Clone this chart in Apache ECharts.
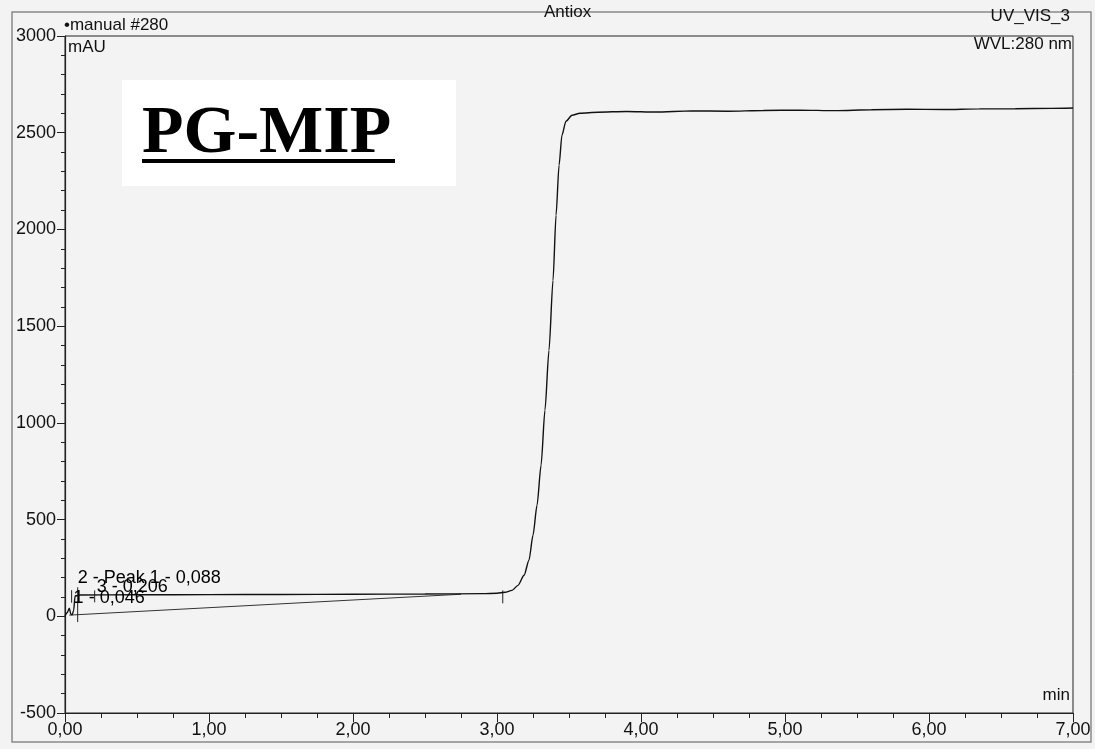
<!DOCTYPE html>
<html>
<head>
<meta charset="utf-8">
<title>Antiox – PG-MIP</title>
<script src="https://cdn.jsdelivr.net/npm/echarts@6/dist/echarts.min.js"></script>
<style>
  html, body { margin: 0; padding: 0; background: #f3f3f3; }
  #chart { width: 1095px; height: 749px; }
</style>
</head>
<body>
<div id="chart"></div>
<script>
// Retention time (min) and absorbance (mAU) of the UV_VIS_3 trace
const traceTime = [0.00, 0.015, 0.03, 0.04, 0.05, 0.06, 0.07, 0.10, 0.50, 1.00, 1.50, 2.00, 2.50, 2.90,
  3.00, 3.056, 3.104, 3.146, 3.188, 3.222, 3.25, 3.278, 3.306, 3.333, 3.361, 3.389, 3.41, 3.431,
  3.451, 3.479, 3.521, 3.576, 3.70, 3.90, 4.10, 4.35, 4.60, 4.85, 5.10, 5.35, 5.60, 5.85, 6.10,
  6.35, 6.60, 6.85, 7.00];
const traceValue = [2, 18, 42, 12, 8, 30, 105, 110, 111, 112, 113, 114, 115, 117,
  119, 124, 134, 160, 212, 290, 419, 574, 781, 1065, 1375, 1737, 2073, 2332,
  2487, 2560, 2590, 2601, 2606, 2610, 2607, 2613, 2611, 2615, 2617, 2614, 2619, 2621, 2620,
  2623, 2624, 2626, 2628];

// Integration baseline (min, mAU)
const baselineTime = [0.03, 2.75];
const baselineValue = [6, 114];

// Detected peaks
const peakNo = [1, 2, 3];
const peakName = ['', 'Peak 1', ''];
const peakRT = [0.046, 0.088, 0.206];
const peakEndRT = 3.04;

// Axis ticks
const xTicks = [0, 1, 2, 3, 4, 5, 6, 7];
const yTicks = [-500, 0, 500, 1000, 1500, 2000, 2500, 3000];

const fmtComma = (v, d) => v.toFixed(d).replace('.', ',');

// Delimiter marks (mAU range of each vertical stroke) and label offsets in px
const tickSpan = [[70, 135], [-30, 150], [72, 134]];
const endTickSpan = [67, 134];
const labelOffset = [[2, -18], [0, -38], [2, -29]];

const FONT = '"Liberation Sans", Arial, sans-serif';

const chart = echarts.init(document.getElementById('chart'), null, { renderer: 'canvas' });

const tickSeries = peakRT.map((rt, i) => ({
  type: 'line', silent: true, symbol: 'none', z: 3,
  lineStyle: { color: '#222', width: 1 },
  data: [[rt, tickSpan[i][0]], [rt, tickSpan[i][1]]]
}));
tickSeries.push({
  type: 'line', silent: true, symbol: 'none', z: 3,
  lineStyle: { color: '#222', width: 1 },
  data: [[peakEndRT, endTickSpan[0]], [peakEndRT, endTickSpan[1]]]
});

const peakLabelData = peakRT.map((rt, i) => ({
  value: [rt, 0],
  label: {
    show: true,
    position: [0, 0],
    offset: labelOffset[i],
    align: 'left',
    verticalAlign: 'middle',
    color: '#000',
    formatter: peakNo[i] + ' - ' + (peakName[i] ? peakName[i] + ' - ' : '') + fmtComma(rt, 3)
  }
}));

chart.setOption({
  animation: false,
  backgroundColor: '#f3f3f3',
  grid: {
    left: 65, right: 22, top: 36, bottom: 36,
    show: true, borderColor: '#222', borderWidth: 1, backgroundColor: 'transparent'
  },
  xAxis: {
    type: 'value', min: xTicks[0], max: xTicks[xTicks.length - 1], interval: 1,
    axisLine: { onZero: false, lineStyle: { color: '#222', width: 1.2 } },
    axisTick: { show: true, inside: false, length: 9, lineStyle: { color: '#222' } },
    minorTick: { show: true, splitNumber: 4, length: 5, lineStyle: { color: '#222' } },
    splitLine: { show: false },
    axisLabel: {
      margin: 8, color: '#111', fontFamily: FONT, fontSize: 18,
      formatter: v => fmtComma(v, 2)
    }
  },
  yAxis: {
    type: 'value', min: yTicks[0], max: yTicks[yTicks.length - 1], interval: 500,
    axisLine: { show: true, lineStyle: { color: '#222', width: 1.2 } },
    axisTick: { show: true, inside: false, length: 8, lineStyle: { color: '#222' } },
    minorTick: { show: true, splitNumber: 5, length: 4, lineStyle: { color: '#222' } },
    splitLine: { show: false },
    axisLabel: {
      margin: 9, color: '#111', fontFamily: FONT, fontSize: 18,
      formatter: v => String(v)
    }
  },
  series: [
    {
      type: 'line', symbol: 'none', z: 4,
      smooth: 0.25, smoothMonotone: 'x',
      lineStyle: { color: '#111', width: 1.4 },
      data: traceTime.map((t, i) => [t, traceValue[i]])
    },
    {
      type: 'line', symbol: 'none', z: 3,
      lineStyle: { color: '#333', width: 1 },
      data: baselineTime.map((t, i) => [t, baselineValue[i]])
    },
    ...tickSeries,
    {
      type: 'scatter', symbolSize: 0, z: 5, silent: true,
      itemStyle: { opacity: 1 },
      label: { color: '#000', fontFamily: FONT, fontSize: 18 },
      data: peakLabelData
    }
  ],
  graphic: [
    // outer frame
    { type: 'rect', shape: { x: 12, y: 12, width: 1079, height: 730 },
      style: { fill: 'none', stroke: '#8a8a8a', lineWidth: 1.5 }, z: 1 },
    // sample name box
    { type: 'rect', shape: { x: 122, y: 80, width: 334, height: 106 },
      style: { fill: '#ffffff' }, z: 2 },
    { type: 'text', left: 142, top: 100, z: 3,
      style: { text: 'PG-MIP', fill: '#000', font: 'bold 68px "Liberation Serif", "Times New Roman", serif' } },
    { type: 'rect', shape: { x: 142, y: 159, width: 253, height: 4 },
      style: { fill: '#000' }, z: 3 },
    // header texts
    { type: 'text', left: 64, top: 17, z: 3,
      style: { text: '•manual #280', fill: '#111', font: '17px ' + FONT } },
    { type: 'text', left: 68, top: 39, z: 3,
      style: { text: 'mAU', fill: '#111', font: '17px ' + FONT } },
    { type: 'text', left: 544, top: 4, z: 3,
      style: { text: 'Antiox', fill: '#111', font: '17px ' + FONT } },
    { type: 'text', right: 25, top: 8, z: 3,
      style: { text: 'UV_VIS_3', fill: '#111', font: '17px ' + FONT } },
    { type: 'text', right: 23, top: 36, z: 3,
      style: { text: 'WVL:280 nm', fill: '#111', font: '17px ' + FONT } },
    { type: 'text', right: 25, top: 687, z: 3,
      style: { text: 'min', fill: '#111', font: '17px ' + FONT } }
  ]
});
</script>
</body>
</html>
